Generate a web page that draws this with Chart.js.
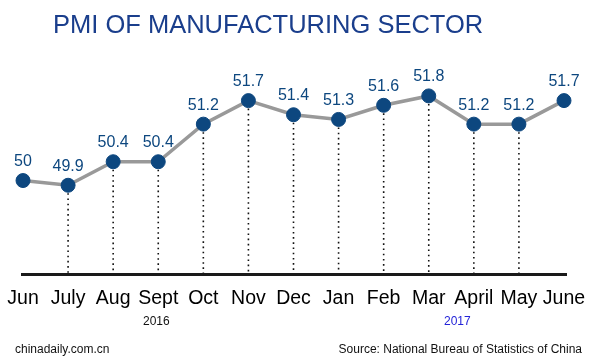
<!DOCTYPE html>
<html>
<head>
<meta charset="utf-8">
<script src="https://cdn.jsdelivr.net/npm/chart.js@4"></script>
<style>
  body { margin: 0; background: #fff; }
  #wrap { position: relative; width: 600px; height: 360px; font-family: "Liberation Sans", Arial, sans-serif; }
  #wrap canvas { position: absolute; left: 0; top: 0; }
  .txt { position: absolute; line-height: 1; white-space: nowrap; }
</style>
</head>
<body>
<div id="wrap">
  <canvas id="pmi" width="600" height="360"></canvas>
  <div class="txt" style="left:53px; top:12px; font-size:25.5px; color:#1a3e8c;">PMI OF MANUFACTURING SECTOR</div>
  <div class="txt" style="left:143px; top:315px; font-size:12px; color:#111;">2016</div>
  <div class="txt" style="left:444px; top:315px; font-size:12px; color:#2323d8;">2017</div>
  <div class="txt" style="left:15px; top:343px; font-size:12px; color:#111;">chinadaily.com.cn</div>
  <div class="txt" style="right:18px; top:343px; font-size:12px; color:#111;">Source: National Bureau of Statistics of China</div>
</div>
<script>
// meses y valores del PMI
const meses = ['Jun', 'July', 'Aug', 'Sept', 'Oct', 'Nov', 'Dec', 'Jan', 'Feb', 'Mar', 'April', 'May', 'June'];
const pmi = [50, 49.9, 50.4, 50.4, 51.2, 51.7, 51.4, 51.3, 51.6, 51.8, 51.2, 51.2, 51.7];

const azul = '#0d477f';

// lineas punteadas, linea base y etiquetas de valores
const extras = {
    id: 'extras',
    beforeDatasetsDraw(chart) {
        const ctx = chart.ctx;
        const meta = chart.getDatasetMeta(0);
        const fondo = chart.scales.y.bottom;
        ctx.save();
        ctx.strokeStyle = '#111';
        ctx.lineWidth = 1.6;
        ctx.setLineDash([1.6, 3.6]);
        meta.data.forEach((p, i) => {
            if (i === 0 || i === meta.data.length - 1) return;
            ctx.beginPath();
            ctx.moveTo(p.x, p.y + 8);
            ctx.lineTo(p.x, fondo);
            ctx.stroke();
        });
        ctx.setLineDash([]);
        ctx.strokeStyle = '#1a1a1a';
        ctx.lineWidth = 3;
        ctx.beginPath();
        ctx.moveTo(chart.chartArea.left - 2, fondo);
        ctx.lineTo(chart.chartArea.right + 3, fondo);
        ctx.stroke();
        ctx.restore();
    },
    afterDatasetsDraw(chart) {
        const ctx = chart.ctx;
        const meta = chart.getDatasetMeta(0);
        ctx.save();
        ctx.fillStyle = azul;
        ctx.font = '16px "Liberation Sans", Arial, sans-serif';
        ctx.textAlign = 'center';
        ctx.textBaseline = 'middle';
        meta.data.forEach((p, i) => {
            ctx.fillText(String(pmi[i]), p.x, p.y - 19);
        });
        ctx.restore();
    }
};

new Chart(document.getElementById('pmi'), {
    type: 'line',
    data: {
        labels: meses,
        datasets: [{
            data: pmi,
            borderColor: '#999999',
            borderWidth: 3.5,
            pointRadius: 7,
            pointHoverRadius: 7,
            pointBackgroundColor: azul,
            pointBorderColor: azul,
            pointBorderWidth: 1,
            tension: 0,
            clip: false
        }]
    },
    options: {
        responsive: false,
        animation: false,
        events: [],
        layout: {
            autoPadding: false,
            padding: { left: 23, right: 36, top: 63, bottom: 38 }
        },
        plugins: {
            legend: { display: false },
            tooltip: { enabled: false }
        },
        scales: {
            x: {
                offset: false,
                grid: { display: false, drawTicks: false },
                border: { display: false },
                ticks: {
                    color: '#000',
                    font: { family: '"Liberation Sans", Arial, sans-serif', size: 19.5 },
                    padding: 12,
                    autoSkip: false,
                    maxRotation: 0
                },
                afterFit(scale) {
                    // que el primer y ultimo mes no empujen el area del grafico
                    scale.paddingLeft = 0;
                    scale.paddingRight = 0;
                }
            },
            y: {
                display: false,
                min: 48,
                max: 52.5
            }
        }
    },
    plugins: [extras]
});
</script>
</body>
</html>
